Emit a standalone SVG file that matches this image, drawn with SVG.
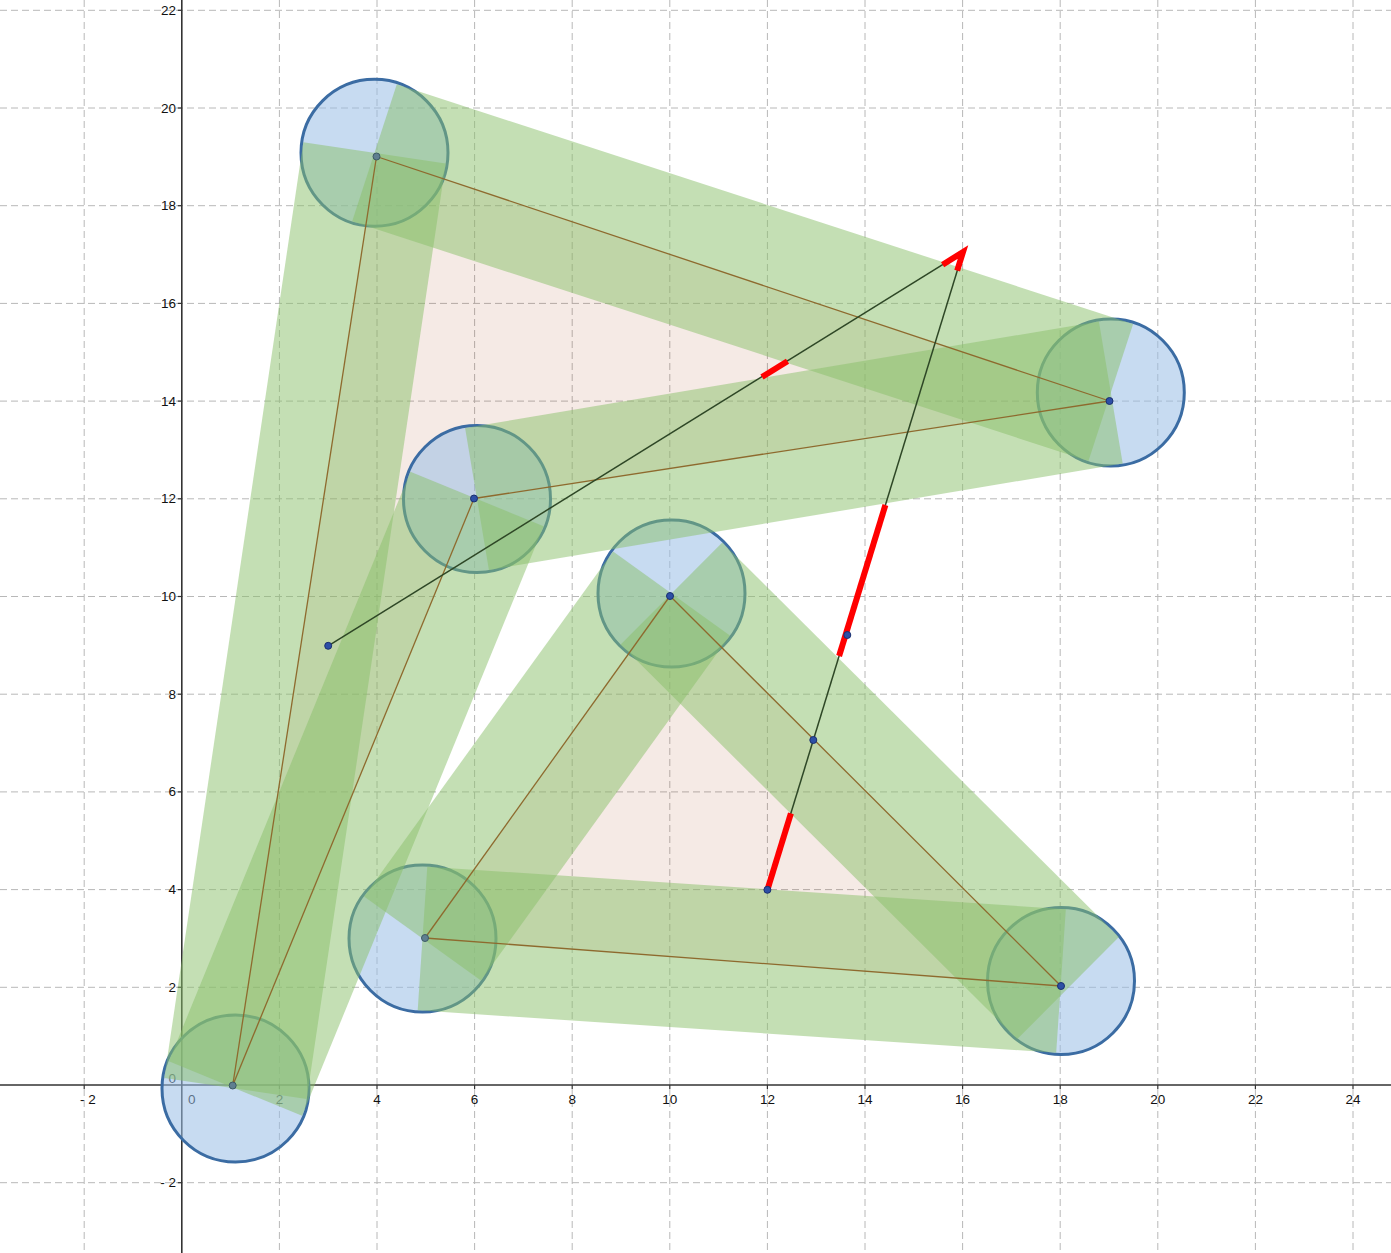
<svg xmlns="http://www.w3.org/2000/svg" width="1391" height="1253" viewBox="0 0 1391 1253">
<style>
.bg{fill:#ffffff}
.grid line{stroke:#b8b8b8;stroke-width:1;stroke-dasharray:7 4}
.axis{stroke:#333333;stroke-width:1.6}
.tick{stroke:#333333;stroke-width:1.2}
.lbl{font-family:"Liberation Sans",Arial,sans-serif;font-size:13.5px;fill:#111}
.xl{text-anchor:middle}
.yl{text-anchor:end}
.poly{fill:rgb(153,51,0);fill-opacity:0.1;stroke:none}
.circ{fill:rgb(153,189,230);fill-opacity:0.55;stroke:#3b6ca3;stroke-width:3}
.band{fill:rgb(137,191,105);fill-opacity:0.5;stroke:none}
.seg{stroke:#8e6a2e;stroke-width:1.3;fill:none}
.dk{stroke:#2e4726;stroke-width:1.5;fill:none}
.red{stroke:#ff0000;stroke-width:6;fill:none;stroke-linecap:butt}
.pt{fill:#2d4fa6;stroke:#1a2f70;stroke-width:1}
.ptg{fill:#5f7f90;stroke:#3d5a66;stroke-width:1}
</style>
<rect class="bg" x="0" y="0" width="1391" height="1253"/>
<g id="grid" class="grid">
<line x1="84.2" y1="0" x2="84.2" y2="1253"/>
<line x1="279.4" y1="0" x2="279.4" y2="1253"/>
<line x1="377" y1="0" x2="377" y2="1253"/>
<line x1="474.6" y1="0" x2="474.6" y2="1253"/>
<line x1="572.2" y1="0" x2="572.2" y2="1253"/>
<line x1="669.8" y1="0" x2="669.8" y2="1253"/>
<line x1="767.4" y1="0" x2="767.4" y2="1253"/>
<line x1="865" y1="0" x2="865" y2="1253"/>
<line x1="962.6" y1="0" x2="962.6" y2="1253"/>
<line x1="1060.2" y1="0" x2="1060.2" y2="1253"/>
<line x1="1157.8" y1="0" x2="1157.8" y2="1253"/>
<line x1="1255.4" y1="0" x2="1255.4" y2="1253"/>
<line x1="1353" y1="0" x2="1353" y2="1253"/>
<line x1="0" y1="1182.7" x2="1391" y2="1182.7"/>
<line x1="0" y1="987.3" x2="1391" y2="987.3"/>
<line x1="0" y1="889.6" x2="1391" y2="889.6"/>
<line x1="0" y1="791.9" x2="1391" y2="791.9"/>
<line x1="0" y1="694.2" x2="1391" y2="694.2"/>
<line x1="0" y1="596.5" x2="1391" y2="596.5"/>
<line x1="0" y1="498.8" x2="1391" y2="498.8"/>
<line x1="0" y1="401.1" x2="1391" y2="401.1"/>
<line x1="0" y1="303.4" x2="1391" y2="303.4"/>
<line x1="0" y1="205.7" x2="1391" y2="205.7"/>
<line x1="0" y1="108" x2="1391" y2="108"/>
<line x1="0" y1="10.3" x2="1391" y2="10.3"/>
</g>
<g id="axes">
<line class="axis" x1="0" y1="1085" x2="1391" y2="1085"/>
<line class="axis" x1="181.8" y1="0" x2="181.8" y2="1253"/>
<g id="ticks" class="tick">
<line x1="84.2" y1="1085" x2="84.2" y2="1089"/>
<line x1="279.4" y1="1085" x2="279.4" y2="1089"/>
<line x1="377" y1="1085" x2="377" y2="1089"/>
<line x1="474.6" y1="1085" x2="474.6" y2="1089"/>
<line x1="572.2" y1="1085" x2="572.2" y2="1089"/>
<line x1="669.8" y1="1085" x2="669.8" y2="1089"/>
<line x1="767.4" y1="1085" x2="767.4" y2="1089"/>
<line x1="865" y1="1085" x2="865" y2="1089"/>
<line x1="962.6" y1="1085" x2="962.6" y2="1089"/>
<line x1="1060.2" y1="1085" x2="1060.2" y2="1089"/>
<line x1="1157.8" y1="1085" x2="1157.8" y2="1089"/>
<line x1="1255.4" y1="1085" x2="1255.4" y2="1089"/>
<line x1="1353" y1="1085" x2="1353" y2="1089"/>
<line x1="177.8" y1="1182.7" x2="181.8" y2="1182.7"/>
<line x1="177.8" y1="987.3" x2="181.8" y2="987.3"/>
<line x1="177.8" y1="889.6" x2="181.8" y2="889.6"/>
<line x1="177.8" y1="791.9" x2="181.8" y2="791.9"/>
<line x1="177.8" y1="694.2" x2="181.8" y2="694.2"/>
<line x1="177.8" y1="596.5" x2="181.8" y2="596.5"/>
<line x1="177.8" y1="498.8" x2="181.8" y2="498.8"/>
<line x1="177.8" y1="401.1" x2="181.8" y2="401.1"/>
<line x1="177.8" y1="303.4" x2="181.8" y2="303.4"/>
<line x1="177.8" y1="205.7" x2="181.8" y2="205.7"/>
<line x1="177.8" y1="108" x2="181.8" y2="108"/>
<line x1="177.8" y1="10.3" x2="181.8" y2="10.3"/>
</g>
</g>
<g id="axis-labels" class="lbl">
<text class="xl" x="88" y="1103.5">- 2</text>
<text class="xl" x="191.7" y="1103.5">0</text>
<text class="xl" x="279.4" y="1103.5">2</text>
<text class="xl" x="377" y="1103.5">4</text>
<text class="xl" x="474.6" y="1103.5">6</text>
<text class="xl" x="572.2" y="1103.5">8</text>
<text class="xl" x="669.8" y="1103.5">10</text>
<text class="xl" x="767.4" y="1103.5">12</text>
<text class="xl" x="865" y="1103.5">14</text>
<text class="xl" x="962.6" y="1103.5">16</text>
<text class="xl" x="1060.2" y="1103.5">18</text>
<text class="xl" x="1157.8" y="1103.5">20</text>
<text class="xl" x="1255.4" y="1103.5">22</text>
<text class="xl" x="1353" y="1103.5">24</text>
<text class="yl" x="176" y="1187.2">- 2</text>
<text class="yl" x="176" y="1082.5">0</text>
<text class="yl" x="176" y="991.8">2</text>
<text class="yl" x="176" y="894.1">4</text>
<text class="yl" x="176" y="796.4">6</text>
<text class="yl" x="176" y="698.7">8</text>
<text class="yl" x="176" y="601">10</text>
<text class="yl" x="176" y="503.3">12</text>
<text class="yl" x="176" y="405.6">14</text>
<text class="yl" x="176" y="307.9">16</text>
<text class="yl" x="176" y="210.2">18</text>
<text class="yl" x="176" y="112.5">20</text>
<text class="yl" x="176" y="14.8">22</text>
</g>
<g id="polygons">
<polygon id="poly-quad" class="poly" points="232.7,1085.5 376.5,156.5 1109.5,401 474,498.5"/>
<polygon id="poly-tri" class="poly" points="670,596 425,938 1061,986"/>
</g>
<g id="node-A"><circle class="circ" cx="235.5" cy="1088.5" r="73.5"/></g>
<g id="node-B"><circle class="circ" cx="374.5" cy="152.8" r="73.5"/></g>
<g id="node-C"><circle class="circ" cx="1110.8" cy="392.5" r="73.5"/></g>
<g id="node-D"><circle class="circ" cx="477" cy="499" r="73.5"/></g>
<g id="node-E"><circle class="circ" cx="671.5" cy="593.5" r="73.5"/></g>
<g id="node-F"><circle class="circ" cx="422.5" cy="938.5" r="73.5"/></g>
<g id="node-G"><circle class="circ" cx="1061" cy="981" r="73.5"/></g>
<g id="bands">
<polygon class="band" points="306.7,1099.1 445.7,163.4 303.3,142.2 164.3,1077.9"/>
<polygon class="band" points="396.8,84.3 1133.1,324 1088.5,461 352.2,221.3"/>
<polygon class="band" points="1098.9,321.5 465.1,428 488.9,570 1122.7,463.5"/>
<polygon class="band" points="410.4,471.7 168.9,1061.2 302.1,1115.8 543.6,526.3"/>
<polygon class="band" points="480.9,980.6 729.9,635.6 613.1,551.4 364.1,896.4"/>
<polygon class="band" points="620.7,644.5 1017.3,1039.1 1118.9,937.1 722.3,542.5"/>
<polygon class="band" points="1065.8,909.2 427.3,866.7 417.7,1010.3 1056.2,1052.8"/>
</g>
<g id="connectors">
<line class="seg" x1="232.7" y1="1085.5" x2="376.5" y2="156.5"/>
<line class="seg" x1="376.5" y1="156.5" x2="1109.5" y2="401"/>
<line class="seg" x1="1109.5" y1="401" x2="474" y2="498.5"/>
<line class="seg" x1="474" y1="498.5" x2="232.7" y2="1085.5"/>
<line class="seg" x1="425" y1="938" x2="670" y2="596"/>
<line class="seg" x1="670" y1="596" x2="1061" y2="986"/>
<line class="seg" x1="1061" y1="986" x2="425" y2="938"/>
<line class="dk" x1="328.2" y1="645.8" x2="963" y2="252"/>
<line class="dk" x1="767.4" y1="889.8" x2="963" y2="252"/>
<line class="red" x1="767.4" y1="889.8" x2="790.9" y2="813.3"/>
<line class="red" x1="839.1" y1="656" x2="885.4" y2="505"/>
<line class="red" x1="762" y1="377" x2="787.5" y2="361.2"/>
<polyline class="red" stroke-linejoin="miter" points="942.6,264.7 963,252 957.2,270.7"/>
</g>
<g id="points">
<circle class="ptg" cx="232.7" cy="1085.5" r="3.5"/>
<circle class="ptg" cx="376.5" cy="156.5" r="3.5"/>
<circle class="pt" cx="1109.5" cy="401" r="3.5"/>
<circle class="pt" cx="474" cy="498.5" r="3.5"/>
<circle class="pt" cx="670" cy="596" r="3.5"/>
<circle class="ptg" cx="425" cy="938" r="3.5"/>
<circle class="pt" cx="1061" cy="986" r="3.5"/>
<circle class="pt" cx="328.2" cy="645.8" r="3.5"/>
<circle class="pt" cx="767.4" cy="889.8" r="3.5"/>
<circle class="pt" cx="813.3" cy="740" r="3.5"/>
<circle class="pt" cx="847.3" cy="635" r="3.5"/>
</g>
</svg>
